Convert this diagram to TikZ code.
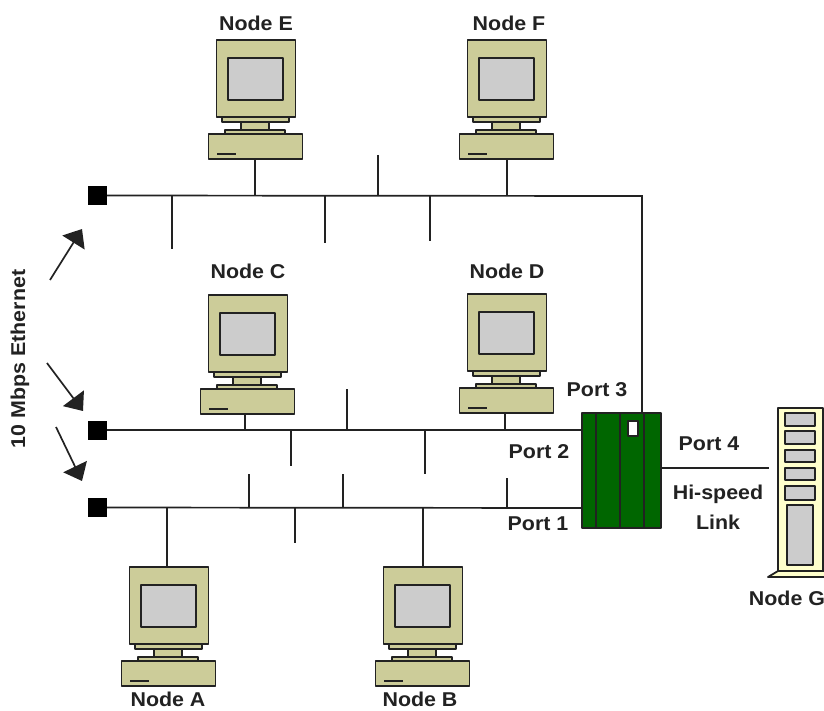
\documentclass[tikz,border=0pt]{standalone}
\usepackage{fontspec}
\setmainfont[FakeStretch=1.07]{Liberation Sans}
\usetikzlibrary{arrows.meta}
\definecolor{tan}{HTML}{CCCC99}
\definecolor{cream}{HTML}{FFFFCC}
\definecolor{scr}{HTML}{CCCCCC}
\definecolor{grn}{HTML}{006600}
\definecolor{ink}{HTML}{222222}
\tikzset{
  x=1pt,y=-1pt,
  part/.style={draw=ink,line width=1.8pt,line join=round},
  wire/.style={draw=ink,line width=1.7pt},
  lbl/.style={font=\fontsize{20}{22}\selectfont\bfseries,text=ink,inner sep=0pt},
  bigarrow/.style={draw=ink,line width=1.7pt,-{Triangle[length=16pt,width=26pt]}},
  bussq/.style={fill=black,draw=none,minimum size=19pt,inner sep=0pt},
  box/.style={part,inner sep=0pt,outer sep=0pt},
  computer/.pic={
    \coordinate (-top) at (0,0);
    \fill[tan,part] (-39.5,0) rectangle (39.5,77);
    \fill[scr,part] (-28,18) rectangle (27,60);
    \fill[tan,part] (-34,77) rectangle (33,82);
    \fill[tan,part] (-15,82) rectangle (13,90);
    \fill[tan,part] (-31,90) rectangle (29,94);
    \node[box,fill=tan,minimum width=94pt,minimum height=25pt,anchor=north] (-case) at (-0.5,94) {};
    \draw[ink,line width=1.8pt] (-39,114) -- (-20,114);
  }
}
\begin{document}
\begin{tikzpicture}
\useasboundingbox (0,0) rectangle (824,711);
% computers
\pic (e) at (256,40) {computer};
\pic (f) at (507,40) {computer};
\pic (c) at (248,295) {computer};
\pic (d) at (507,294) {computer};
\pic (a) at (169,567) {computer};
\pic (b) at (423,567) {computer};
% labels
\node[lbl] at (256,23) {Node E};
\node[lbl] at (509,23) {Node F};
\node[lbl] at (248,271) {Node C};
\node[lbl] at (507,271) {Node D};
\node[lbl] at (168,699) {Node A};
\node[lbl] at (420,699) {Node B};
\node[lbl] at (787,598) {Node G};
\node[lbl] at (597,390) {Port 3};
\node[lbl] at (539,452) {Port 2};
\node[lbl] at (538,524) {Port 1};
\node[lbl] at (709,444) {Port 4};
\node[lbl] at (718,494) {Hi-speed};
\node[lbl] at (718,522) {Link};
\node[lbl,rotate=90] at (20,359) {10 Mbps Ethernet};
% bus ends
\node[bussq] (s1) at (97.5,195.5) {};
\node[bussq] (s2) at (97.5,430) {};
\node[bussq] (s3) at (97.5,507.5) {};
% switch
\node[box,fill=grn,minimum width=79pt,minimum height=115pt,anchor=north west] (sw) at (582,413) {};
\draw[ink,line width=1.8pt] (596,413) -- (596,528) (620,413) -- (620,528) (644,413) -- (644,528);
\fill[white,part] (628,421) rectangle (638,436);
% server
\node[box,fill=cream,minimum width=45pt,minimum height=163pt,anchor=north west] (srv) at (778,408) {};
\fill[cream,part] (768,577) -- (778,571) -- (830,571) -- (830,577) -- cycle;
\foreach \ya/\yb in {413/426,431/444,450/462,468/480,486/500}
  \fill[scr,part] (785,\ya) rectangle (815,\yb);
\fill[scr,part] (787,505) rectangle (813,565);
% buses
\coordinate (bend) at (642,196);
\coordinate (swtop) at (642,413);
\coordinate (p2) at (582,430);
\coordinate (p1) at (582,508);
\coordinate (p4a) at (661,468);
\coordinate (p4b) at (769,468);
\draw[wire] (s1) -- (bend) -- (swtop);
\draw[wire] (s2) -- (p2);
\draw[wire] (s3) -- (p1);
\draw[wire] (p4a) -- (p4b);
% station drops
\coordinate (te) at (255,196);
\coordinate (tf) at (507,196);
\coordinate (tc) at (245,430);
\coordinate (td) at (505,430);
\coordinate (ta) at (167,508);
\coordinate (tb) at (423,508);
\draw[wire] (e-case.south -| te) -- (te);
\draw[wire] (f-case.south -| tf) -- (tf);
\draw[wire] (c-case.south -| tc) -- (tc);
\draw[wire] (d-case.south -| td) -- (td);
\draw[wire] (ta) -- (a-top -| ta);
\draw[wire] (tb) -- (b-top);
% open stubs
\foreach \xx/\ya/\yb in {172/196/249,325/196/243,378/155/196,430/196/241,
  291/430/466,347/389/430,425/430/474,
  249/474/508,343/474/508,295/508/543,507/478/508}
  \draw[wire] (\xx,\ya) -- (\xx,\yb);
% arrows
\coordinate (a1s) at (50,280); \coordinate (a1e) at (82,229);
\coordinate (a2s) at (47,363); \coordinate (a2e) at (83,411);
\coordinate (a3s) at (56,427); \coordinate (a3e) at (82,481);
\draw[bigarrow] (a1s) -- (a1e);
\draw[bigarrow] (a2s) -- (a2e);
\draw[bigarrow] (a3s) -- (a3e);
\end{tikzpicture}
\end{document}
